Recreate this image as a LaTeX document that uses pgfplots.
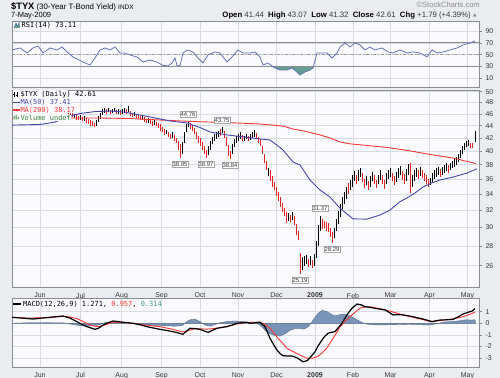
\documentclass[border=0pt]{standalone}
\usepackage{pgfplots}
\usepackage{pgfplotstable}
\pgfplotsset{compat=1.18}
\usepackage{fontspec}
\setmainfont{Liberation Sans}
\newfontfamily\mono{DejaVu Sans Mono}
\newfontfamily\dejavu{DejaVu Sans}
\definecolor{outerbg}{RGB}{234,236,240}
\definecolor{panelbg}{RGB}{250,250,253}
\definecolor{gridc}{RGB}{216,219,226}
\definecolor{borderc}{RGB}{135,140,150}
\definecolor{maBlue}{RGB}{70,70,170}
\definecolor{maRed}{RGB}{250,55,55}
\definecolor{barRed}{RGB}{225,35,35}
\definecolor{rsiLine}{RGB}{100,115,180}
\definecolor{rsiFill}{RGB}{100,158,145}
\definecolor{histc}{RGB}{120,148,185}
\definecolor{tealc}{RGB}{70,150,130}
\definecolor{volg}{RGB}{60,130,60}
\definecolor{txtc}{RGB}{55,55,55}

\pgfplotstableread{
x lo hi
18 46.0 46.8
20 46.3 47.0
26 45.8 46.5
28 46.0 46.9
30 46.2 47.1
36 45.7 46.4
42 45.3 46.0
44 45.6 46.4
46 45.8 46.7
48 46.1 46.9
54 45.9 46.8
56 46.2 47.0
62 46.0 46.8
64 46.2 47.0
74 45.3 46.0
80 45.0 45.8
84 44.8 45.6
96 44.0 45.0
98 44.6 45.6
100 45.2 46.2
102 45.8 46.8
104 46.2 47.0
108 46.3 47.1
112 46.1 46.9
114 46.3 47.0
118 46.0 46.8
122 46.0 46.9
124 46.2 47.0
128 46.4 47.3
134 45.6 46.4
142 45.0 45.8
148 44.5 45.3
154 44.1 44.9
166 42.6 43.3
172 42.0 42.9
182 39.6 41.4
184 41.2 43.0
186 43.0 44.3
188 43.8 44.76
208 39.4 40.8
210 40.2 41.6
212 41.0 42.2
214 41.5 42.6
216 41.9 43.0
218 42.2 43.2
222 42.8 43.75
232 39.6 41.0
234 40.6 41.8
236 41.2 42.3
238 41.6 42.6
240 41.9 42.9
244 41.5 42.4
246 41.8 42.7
250 41.7 42.6
252 42.0 42.9
254 42.2 43.3
268 36.4 37.6
288 30.8 31.7
292 30.9 31.8
302 25.6 26.9
304 26.0 27.0
306 26.2 27.1
310 26.1 27.0
314 26.0 27.2
316 26.8 28.5
318 28.0 30.3
320 29.6 31.37
334 28.8 30.0
336 29.6 31.0
338 30.4 31.9
340 31.2 32.8
342 32.2 33.6
344 32.8 34.3
346 33.4 35.0
350 34.6 35.9
352 35.0 36.6
354 35.8 37.1
358 35.8 37.3
360 36.3 37.6
366 35.2 36.4
370 35.0 36.4
372 35.7 37.0
378 35.3 36.6
380 35.9 37.2
386 35.4 36.8
388 36.0 37.3
390 36.3 37.6
396 35.6 37.0
398 36.2 37.5
400 36.5 37.8
406 35.8 37.4
408 36.6 38.1
412 35.0 36.5
414 35.8 37.3
416 36.3 37.6
420 36.4 37.7
430 35.2 36.2
432 35.6 36.8
434 36.0 37.2
436 36.3 37.5
438 36.6 37.7
442 36.5 37.7
444 36.8 38.0
446 37.1 38.2
450 37.2 38.3
452 37.5 38.6
454 37.7 38.8
456 37.9 39.1
458 38.4 39.6
460 39.0 40.2
462 39.5 40.8
464 40.1 41.3
466 40.6 41.6
468 40.8 41.7
475 41.32 43.07
}\blackbars

\pgfplotstableread{
x lo hi
14 46.2 46.9
16 45.9 46.6
22 46.0 46.8
24 45.6 46.3
32 45.8 46.7
34 45.5 46.2
38 45.4 46.3
40 45.1 45.9
50 45.8 46.6
52 45.5 46.3
58 46.0 46.8
60 45.8 46.5
66 46.0 46.7
68 46.0 46.8
70 45.7 46.5
72 45.4 46.2
76 45.0 45.8
78 44.9 45.6
82 44.7 45.5
86 44.5 45.3
88 44.3 45.2
90 44.0 44.9
92 43.9 44.7
94 43.8 44.5
106 46.0 46.8
110 45.9 46.7
116 45.9 46.7
120 45.8 46.6
126 45.9 46.8
130 45.7 46.5
132 45.5 46.2
136 45.3 46.0
138 45.1 45.8
140 44.9 45.6
144 44.6 45.4
146 44.4 45.1
150 44.2 45.0
152 44.0 44.8
156 43.9 44.6
158 43.7 44.4
160 43.2 44.2
162 42.9 43.8
164 42.5 43.4
168 42.2 43.0
170 41.8 42.7
174 41.6 42.5
176 41.2 42.0
178 40.2 41.5
180 38.95 41.0
190 43.5 44.4
192 43.2 44.1
194 42.6 43.6
196 41.8 43.0
198 41.2 42.4
200 40.8 42.0
202 40.2 41.4
204 39.5 40.7
206 38.97 40.2
220 42.4 43.4
224 42.0 43.1
226 40.8 42.2
228 39.3 40.9
230 38.84 40.0
242 41.6 42.5
248 41.5 42.3
256 41.8 42.8
258 41.3 42.2
260 40.8 41.8
262 39.5 40.8
264 38.2 39.6
266 37.2 38.6
270 35.8 37.2
272 35.0 36.4
274 34.5 35.6
276 33.8 35.0
278 33.2 34.3
280 32.4 33.6
282 31.8 32.9
284 31.3 32.3
286 30.5 31.8
290 30.6 31.5
294 30.3 31.3
296 29.2 30.4
298 28.6 29.6
300 25.19 27.3
308 25.9 26.7
312 25.8 26.6
322 29.8 31.0
324 29.9 30.8
326 29.6 30.6
328 29.5 30.5
330 29.0 30.0
332 28.29 29.5
348 34.0 35.5
356 35.4 36.6
362 35.6 36.8
364 34.8 36.0
368 34.6 35.8
374 35.3 36.5
376 34.8 35.9
382 35.4 36.6
384 34.7 35.9
392 35.7 36.9
394 35.2 36.4
402 35.9 37.1
404 35.4 36.7
410 34.2 38.3
418 36.0 37.3
422 36.1 37.3
424 35.7 36.9
426 35.3 36.5
428 34.9 36.0
440 36.3 37.4
448 36.9 37.9
470 40.5 41.3
472 40.4 41.2
}\redbars

\pgfplotstableread{
x v
12 44.10
40 44.20
55 44.60
67 45.46
80 46.06
95 46.40
110 46.50
125 46.30
140 45.80
155 45.30
170 44.79
187 44.45
200 43.70
210 42.97
227 42.50
243 42.20
260 41.86
270 41.70
277 40.90
283 40.16
293 38.40
300 37.95
310 35.88
320 34.55
330 33.65
340 32.27
353 31.00
367 30.97
380 31.45
390 32.05
400 33.07
407 33.53
415 34.17
423 34.94
432 35.50
440 35.88
453 36.28
467 36.83
477 37.41
}\maFifty

\pgfplotstableread{
x v
12 45.20
67 45.29
100 45.29
130 45.20
160 44.95
193 44.70
230 44.50
260 44.28
283 43.95
293 43.45
305 43.10
320 42.50
330 42.02
340 41.39
350 41.10
387 40.55
407 40.10
430 39.50
453 38.97
476 38.17
}\maTwo

\pgfplotstableread{
x v
12 57.9
20 61.3
27 52.8
33 61.3
38 64.7
43 52.8
50 61.3
57 57.9
62 63.0
67 54.5
73 46.0
83 37.4
90 32.3
95 44.3
100 57.9
105 61.3
110 57.9
115 63.0
120 52.8
125 52.8
130 49.4
137 46.0
143 37.4
150 40.8
157 37.4
163 31.5
168 31.0
172 35.7
175 44.3
177 31.5
180 30.8
183 52.8
188 57.9
193 54.5
198 44.3
203 35.7
208 49.4
215 54.5
220 52.8
227 37.4
232 46.0
238 57.9
243 52.8
250 52.8
255 54.5
260 46.0
263 32.3
268 35.7
275 27.2
280 23.8
287 23.8
292 27.2
297 20.4
300 15.3
305 20.4
310 23.8
313 27.2
317 52.8
322 52.8
327 52.8
332 44.3
337 52.8
340 63.0
345 69.8
350 63.0
355 69.8
360 66.4
365 57.9
370 63.0
375 57.9
382 61.3
388 54.5
393 52.8
400 57.9
407 52.8
413 54.5
420 52.8
427 46.0
432 57.9
437 52.8
443 54.5
450 57.9
457 61.3
463 66.4
470 69.8
475 73.1
}\rsidata

\tikzset{
  pricebox/.style={draw=gray!70, fill=white, inner sep=0.8bp, font=\fontsize{6}{6.5}\selectfont, text=txtc},
}
\pgfplotsset{
  panel/.style={
    scale only axis, width=467bp, xmin=12, xmax=479,
    anchor=south west,
    axis background/.style={fill=panelbg},
    axis line style={draw=borderc, line width=0.8bp},
    grid=major, major grid style={draw=gridc, line width=0.5bp},
    xtick={40,80.5,121.7,161.5,200,238,276.5,315,353,390.5,429.5,467.5},
    xtick style={draw=none},
    ytick pos=right, yticklabel pos=right,
    ytick style={draw=borderc, line width=0.6bp},
    minor tick style={draw=none},
    tick align=outside, major tick length=3bp,
    ticklabel style={font=\fontsize{7}{8}\selectfont, text=txtc},
    xticklabel style={yshift=1bp},
    /pgf/number format/assume math mode=true,
  },
  monthlabels/.style={xticklabels={Jun,Jul,Aug,Sep,Oct,Nov,Dec,{\textbf{2009}},Feb,Mar,Apr,May}},
}

\begin{document}
\begin{tikzpicture}
\fill[outerbg] (0,0) rectangle (500bp,378bp);

% ---------------- RSI panel
\begin{axis}[panel, at={(12bp,291bp)}, height=66bp, ymin=-5.1, ymax=107.2,
  ytick={10,30,50,70,90}, xticklabels={}]
\addplot[fill=rsiFill, draw=none] coordinates {(272.7,30) (275,27.2) (280,23.8) (287,23.8) (292,27.2) (297,20.4) (300,15.3) (305,20.4) (310,23.8) (313,27.2) (313.4,30)} -- cycle;
\draw[borderc, line width=0.8bp] (axis cs:12,70) -- (axis cs:479,70);
\draw[borderc, line width=0.8bp] (axis cs:12,30) -- (axis cs:479,30);
\draw[gray!80, dash dot, line width=0.6bp] (axis cs:12,50) -- (axis cs:479,50);
\addplot[rsiLine, line width=0.8bp] table[x=x, y=v] {\rsidata};
\end{axis}

% ---------------- Price panel
\begin{axis}[panel, monthlabels, at={(12bp,90.5bp)}, height=197.5bp,
  ymode=log, ymin=23.95, ymax=50.32,
  ytick={26,28,30,32,34,36,38,40,42,44,46,48,50},
  yticklabels={26,28,30,32,34,36,38,40,42,44,46,48,50}]
\addplot[draw=none, mark=none, forget plot,
  error bars/.cd, y dir=plus, y explicit, error mark=none,
  error bar style={draw=black, line width=0.9bp}]
  table[x=x, y=lo, y error expr=\thisrow{hi}-\thisrow{lo}] {\blackbars};
\addplot[draw=none, mark=none, forget plot,
  error bars/.cd, y dir=plus, y explicit, error mark=none,
  error bar style={draw=barRed, line width=0.9bp}]
  table[x=x, y=lo, y error expr=\thisrow{hi}-\thisrow{lo}] {\redbars};
\addplot[maRed, line width=0.9bp] table[x=x, y=v] {\maTwo};
\addplot[maBlue, line width=0.9bp] table[x=x, y=v] {\maFifty};
\node[pricebox, above=4bp] at (axis cs:188,44.76) {44.76};
\node[pricebox, above=4bp] at (axis cs:222,43.75) {43.75};
\node[pricebox, above=4bp] at (axis cs:320,31.37) {31.37};
\node[pricebox, below=3bp] at (axis cs:180,38.95) {38.95};
\node[pricebox, below=3bp] at (axis cs:206,38.97) {38.97};
\node[pricebox, below=3bp] at (axis cs:230,38.84) {38.84};
\node[pricebox, below=3bp] at (axis cs:332,28.29) {28.29};
\node[pricebox, below=3bp] at (axis cs:300,25.19) {25.19};
\end{axis}

% ---------------- MACD panel
\begin{axis}[panel, monthlabels, at={(12bp,10.7bp)}, height=69bp, ymin=-3.79, ymax=2.155,
  ytick={-3,-2,-1,0,1}, yticklabels={-3,-2,-1,0,1}]
\addplot[fill=histc, draw=histc!70!black, line width=0.4bp] coordinates {
(12,0) (30,0.05) (50,0.05) (65,0.03) (73,-0.1) (80,-0.2) (87,-0.25) (95,-0.2) (100,-0.1)
(105,0.05) (113,0.12) (120,0.08) (127,0.0) (135,-0.05) (145,-0.12) (155,-0.18) (165,-0.2)
(175,-0.25) (182,-0.2) (186,0.1) (190,0.3) (195,0.35) (200,0.15) (205,-0.15) (210,-0.25)
(215,-0.1) (220,0.05) (227,0.15) (235,0.2) (243,0.15) (250,0.05) (258,-0.05) (262,-0.3)
(266,-0.7) (270,-0.9) (275,-1.05) (280,-1.1) (285,-0.9) (290,-0.6) (295,-0.45) (300,-0.45)
(304,-0.5) (308,-0.3) (311,0.0) (314,0.4) (318,0.85) (322,1.1) (326,1.05) (330,0.85)
(334,0.65) (338,0.7) (342,0.8) (347,0.75) (352,0.55) (357,0.3) (362,0.08) (366,-0.05)
(372,-0.12) (380,-0.15) (390,-0.12) (400,-0.1) (410,-0.08) (420,-0.12) (428,-0.15)
(432,-0.12) (438,0.0) (445,0.12) (452,0.15) (460,0.22) (466,0.3) (472,0.28) (475,0.31) (475.5,0)} -- cycle;
\addplot[maRed, line width=0.9bp] coordinates {
(12,0.5) (30,0.45) (50,0.5) (63,0.6) (70,0.55) (77,0.4) (84,0.12) (90,-0.15) (95,-0.25)
(100,-0.29) (106,-0.1) (113,0.1) (123,0.08) (133,0) (145,-0.15) (160,-0.29) (172,-0.5)
(183,-0.75) (188,-0.65) (193,-0.5) (200,-0.47) (207,-0.5) (214,-0.45) (220,-0.38) (228,-0.25)
(237,-0.05) (245,0.05) (250,0.08) (260,0.1) (265,-0.1) (270,-0.43) (274,-0.85) (278,-1.29)
(283,-1.75) (287,-2.15) (292,-2.4) (297,-2.6) (302,-2.82) (307,-3.02) (313,-3.0) (318,-2.85)
(322,-2.58) (327,-2.1) (332,-1.44) (336,-0.9) (340,-0.29) (345,0.15) (350,0.57) (355,0.95)
(360,1.29) (365,1.4) (370,1.43) (376,1.33) (383,1.2) (392,1.0) (400,0.8) (408,0.62) (417,0.43)
(424,0.3) (430,0.14) (437,0.2) (443,0.28) (450,0.34) (457,0.45) (463,0.57) (470,0.78) (475,0.96)};
\addplot[black, line width=1.2bp] coordinates {
(12,0.52) (22,0.45) (33,0.37) (42,0.45) (50,0.52) (57,0.58) (63,0.63) (70,0.45) (77,0.14)
(82,-0.1) (87,-0.29) (95,-0.52) (99,-0.4) (103,-0.15) (108,0.05) (113,0.2) (118,0.15) (123,0.09)
(128,0.05) (133,0) (140,-0.12) (147,-0.29) (153,-0.4) (160,-0.52) (167,-0.62) (173,-0.72)
(178,-0.82) (183,-0.95) (186,-0.7) (190,-0.43) (195,-0.45) (200,-0.52) (204,-0.65) (208,-0.78)
(212,-0.62) (217,-0.43) (222,-0.35) (227,-0.29) (232,-0.15) (237,0) (242,0.05) (247,0.09)
(250,0.0) (255,0.05) (260,0.09) (265,-0.29) (270,-1.29) (274,-1.9) (277,-2.3) (280,-2.6)
(283,-2.79) (288,-2.82) (292,-2.82) (295,-2.9) (298,-3.02) (301,-3.2) (303,-3.31) (306,-3.25)
(308,-3.16) (311,-2.85) (315,-2.45) (318,-1.95) (322,-1.44) (325,-1.1) (328,-0.86) (331,-0.78)
(335,-0.72) (338,-0.4) (342,0) (345,0.45) (348,0.86) (352,1.3) (357,1.66) (361,1.6) (365,1.43)
(370,1.38) (375,1.29) (380,1.22) (385,1.15) (389,0.95) (393,0.72) (398,0.75) (403,0.72)
(408,0.65) (413,0.57) (418,0.47) (423,0.37) (428,0.25) (432,0.14) (436,0.22) (440,0.28)
(446,0.3) (453,0.34) (458,0.55) (463,0.8) (468,0.95) (472,1.05) (475,1.27)};
\end{axis}

% ---------------- header texts
\node[anchor=base west, inner sep=0, text=black] at (11bp,368.5bp)
  {\fontsize{9.3}{10}\selectfont\bfseries \$TYX\mdseries\fontsize{7.9}{9}\selectfont\ (30-Year T-Bond Yield)\ \fontsize{6.5}{8}\selectfont INDX};
\node[anchor=base west, inner sep=0, text=black] at (11bp,360.5bp)
  {\fontsize{7.5}{8}\selectfont 7-May-2009};
\node[anchor=base east, inner sep=0, text=gray!90] at (480bp,370.5bp)
  {\fontsize{7.6}{8}\selectfont \textcopyright StockCharts.com};
\node[anchor=base east, inner sep=0, text=txtc] at (471bp,360.5bp)
  {\fontsize{7.8}{8}\selectfont \textbf{\color{black}Open} 41.44\ \ \textbf{\color{black}High} 43.07\ \ \textbf{\color{black}Low} 41.32\ \ \textbf{\color{black}Close} 42.61\ \ \textbf{\color{black}Chg} +1.79 (+4.39\%)};
\node[anchor=base west, inner sep=0, text=gray] at (473bp,361bp) {\dejavu\fontsize{4.5}{5}\selectfont ▲};

% ---------------- RSI legend
\fill[rsiFill] (14bp,350bp) -- (16bp,355bp) -- (17.5bp,352bp) -- (19.5bp,356bp) -- (20bp,350bp) -- cycle;
\draw[rsiLine, line width=0.5bp] (14bp,350bp) -- (16bp,355bp) -- (17.5bp,352bp) -- (19.5bp,356bp);
\node[anchor=west, inner sep=0, text=black] at (21.5bp,352.5bp) {\mono\fontsize{7}{8}\selectfont RSI(14) 73.11};

% ---------------- price legend
\fill[panelbg] (12.5bp,257bp) rectangle (68bp,287.5bp);
\draw[black, line width=0.5bp] (14bp,280.5bp)--(14bp,285.5bp) (13bp,284bp)--(14bp,284bp) (14bp,282bp)--(15bp,282bp)
  (17bp,281bp)--(17bp,286bp) (16bp,282.5bp)--(17bp,282.5bp) (17bp,285bp)--(18bp,285bp);
\node[anchor=west, inner sep=0.3bp, fill=panelbg, text=black] at (20bp,283bp) {\mono\fontsize{7}{8}\selectfont \$TYX (Daily) 42.61};
\draw[maBlue, line width=1.2bp] (13bp,275.7bp) -- (20bp,275.7bp);
\node[anchor=west, inner sep=0.3bp, fill=panelbg, text=maBlue] at (20bp,275.7bp) {\mono\fontsize{7}{8}\selectfont MA(50) 37.41};
\draw[maRed, line width=1.2bp] (13bp,268bp) -- (20bp,268bp);
\node[anchor=west, inner sep=0.3bp, fill=panelbg, text=maRed] at (20bp,268bp) {\mono\fontsize{7}{8}\selectfont MA(200) 38.17};
\fill[volg] (13.5bp,258.5bp) rectangle (14.5bp,262bp) (15.5bp,258.5bp) rectangle (16.5bp,263bp) (17.5bp,258.5bp) rectangle (18.5bp,261bp);
\node[anchor=west, inner sep=0.3bp, fill=panelbg, text=volg] at (20bp,260.3bp) {\mono\fontsize{7}{8}\selectfont Volume undef};

% ---------------- MACD legend
\draw[black, line width=1.2bp] (13bp,74bp) -- (21bp,74bp);
\node[anchor=west, inner sep=0, text=black] at (23bp,74bp)
  {\mono\fontsize{7}{8}\selectfont MACD(12,26,9) 1.271, {\color{maRed}0.957}, {\color{tealc}0.314}};

\pgfresetboundingbox
\useasboundingbox (0,0) rectangle (500bp,378bp);
\end{tikzpicture}
\end{document}
